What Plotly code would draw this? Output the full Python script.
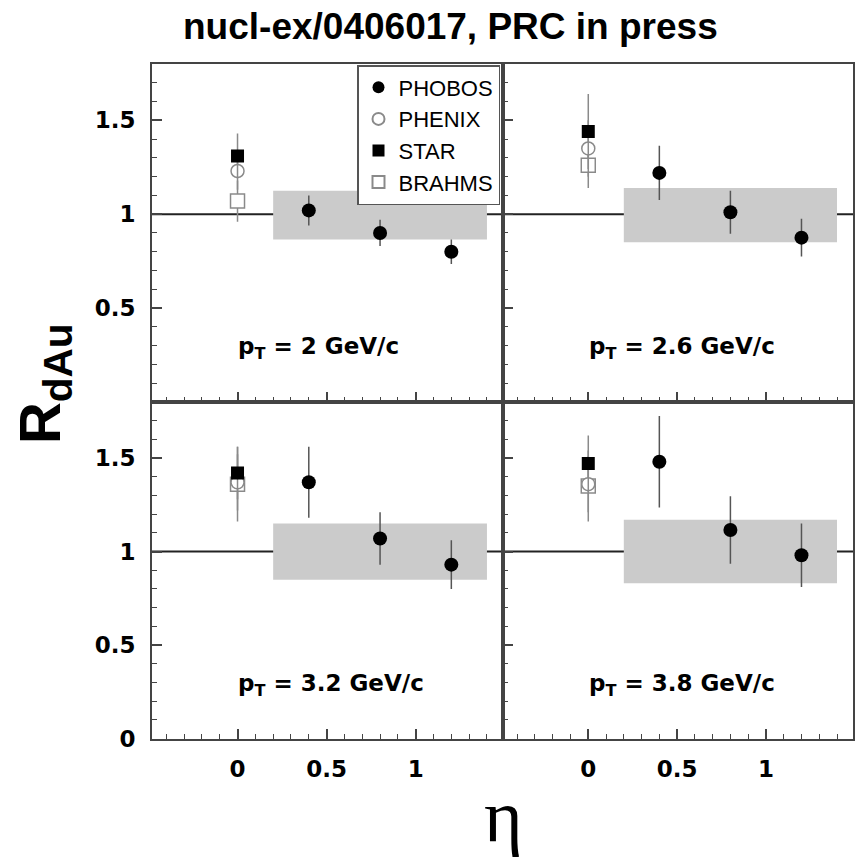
import plotly.graph_objects as go

# ---------------- data ----------------
pt_labels = ["2", "2.6", "3.2", "3.8"]
eta_phobos = [0.4, 0.8, 1.2]
phobos_r = [[1.02, 0.90, 0.80],
            [1.22, 1.01, 0.875],
            [1.37, 1.07, 0.93],
            [1.48, 1.115, 0.98]]
phobos_err = [[0.08, 0.07, 0.065],
              [0.145, 0.115, 0.10],
              [0.19, 0.14, 0.13],
              [0.245, 0.18, 0.17]]
eta_mid = [0.0]
star_r = [1.31, 1.44, 1.42, 1.47]
star_err = [0.12, 0.20, 0.14, 0.15]
phenix_r = [1.23, 1.35, 1.37, 1.36]
phenix_err = [0.10, 0.15, 0.15, 0.15]
brahms_r = [1.07, 1.26, 1.36, 1.35]
brahms_err = [0.11, 0.12, 0.20, 0.19]
syst_eta = [0.2, 1.4]
syst_lo = [0.865, 0.85, 0.85, 0.83]
syst_hi = [1.125, 1.14, 1.15, 1.17]

W, H = 857, 862
# panel pixel boxes (left, right, top, bottom)
xl = [(152, 503), (503, 853)]
yt = [(65, 408), (408, 750)]

def px_x(v):
    return v / W

def px_y(v):
    return 1 - v / H

fig = go.Figure()

AX = "#444444"
tickfont = dict(family="DejaVu Sans", size=23, color="black", weight="bold")

layout_axes = {}
for i in range(4):
    row, col = divmod(i, 2)
    n = "" if i == 0 else str(i + 1)
    x0, x1 = xl[col]
    y0, y1 = yt[row]
    xa = dict(domain=[px_x(x0), px_x(x1)], range=[-0.48, 1.49], anchor="y" + n,
              tickmode="linear", tick0=0, dtick=0.5, ticks="inside", ticklen=10,
              tickwidth=1.5, tickcolor=AX, showline=True, linecolor=AX, linewidth=2,
              mirror=True, showgrid=False, zeroline=False,
              showticklabels=(row == 1), tickfont=tickfont, ticklabelstandoff=9,
              minor=dict(tickmode="linear", tick0=0, dtick=0.1, ticks="inside",
                         ticklen=5, tickwidth=1, tickcolor=AX))
    ya = dict(domain=[px_y(y1), px_y(y0)], range=[0, 1.8], anchor="x" + n,
              tickmode="array",
              tickvals=[0.5, 1, 1.5] if row == 0 else [0, 0.5, 1, 1.5],
              ticktext=["0.5", "1", "1.5"] if row == 0 else ["0", "0.5", "1", "1.5"],
              ticks="inside", ticklen=10, tickwidth=1.5, tickcolor=AX,
              showline=True, linecolor=AX, linewidth=2, mirror=True,
              showgrid=False, zeroline=False, showticklabels=(col == 0),
              tickfont=tickfont, ticklabelstandoff=10,
              minor=dict(tickmode="linear", tick0=0, dtick=0.1, ticks="inside",
                         ticklen=5, tickwidth=1, tickcolor=AX))
    layout_axes["xaxis" + n] = xa
    layout_axes["yaxis" + n] = ya

    xr, yr = "x" + n, "y" + n
    # systematic band
    fig.add_shape(type="rect", xref=xr, yref=yr, x0=syst_eta[0], x1=syst_eta[1],
                  y0=syst_lo[i], y1=syst_hi[i], fillcolor="#cbcbcb",
                  line=dict(width=0), layer="below")
    # unity line
    fig.add_shape(type="line", xref=xr + " domain", yref=yr, x0=0, x1=1,
                  y0=1, y1=1, line=dict(color="#222222", width=2), layer="below")

    show = (i == 0)
    fig.add_trace(go.Scatter(
        x=eta_mid, y=[brahms_r[i]], mode="markers", name="BRAHMS",
        xaxis=xr, yaxis=yr, showlegend=show, legendrank=4,
        marker=dict(symbol="square", size=14, color="white",
                    line=dict(color="#8a8a8a", width=1.5)),
        error_y=dict(type="data", array=[brahms_err[i]], width=0,
                     thickness=1.5, color="#8a8a8a")))
    fig.add_trace(go.Scatter(
        x=eta_mid, y=[phenix_r[i]], mode="markers", name="PHENIX",
        xaxis=xr, yaxis=yr, showlegend=show, legendrank=2,
        marker=dict(symbol="circle", size=13, color="white",
                    line=dict(color="#8a8a8a", width=1.5)),
        error_y=dict(type="data", array=[phenix_err[i]], width=0,
                     thickness=1.5, color="#8a8a8a")))
    fig.add_trace(go.Scatter(
        x=eta_mid, y=[star_r[i]], mode="markers", name="STAR",
        xaxis=xr, yaxis=yr, showlegend=show, legendrank=3,
        marker=dict(symbol="square", size=13, color="black"),
        error_y=dict(type="data", array=[star_err[i]], width=0,
                     thickness=1.5, color="#8a8a8a")))
    fig.add_trace(go.Scatter(
        x=eta_phobos, y=phobos_r[i], mode="markers", name="PHOBOS",
        xaxis=xr, yaxis=yr, showlegend=show, legendrank=1,
        marker=dict(symbol="circle", size=14, color="black"),
        error_y=dict(type="data", array=phobos_err[i], width=0,
                     thickness=1.5, color="#555555")))

    fig.add_annotation(xref=xr, yref=yr, x=-0.01, y=0.285, xanchor="left",
                       yanchor="middle", showarrow=False,
                       text="p<sub>T</sub> = " + pt_labels[i] + " GeV/c",
                       font=dict(family="DejaVu Sans", size=23, color="black",
                                 weight="bold"))

fig.add_annotation(xref="paper", yref="paper", x=px_x(450), y=px_y(27),
                   xanchor="center", yanchor="middle", showarrow=False,
                   text="nucl-ex/0406017, PRC in press",
                   font=dict(family="Liberation Sans", size=37, color="black",
                             weight="bold"))
fig.add_annotation(xref="paper", yref="paper", x=px_x(44), y=px_y(390),
                   xanchor="center", yanchor="middle", showarrow=False,
                   textangle=-90, text="R<sub>dAu</sub>",
                   font=dict(family="Liberation Sans", size=58, color="black",
                             weight="bold"))
fig.add_annotation(xref="paper", yref="paper", x=px_x(504), y=px_y(828),
                   xanchor="center", yanchor="middle", showarrow=False,
                   text="η",
                   font=dict(family="Liberation Serif", size=74, color="black"))

fig.update_layout(
    width=W, height=H, margin=dict(l=0, r=0, t=0, b=0),
    paper_bgcolor="white", plot_bgcolor="white",
    showlegend=True,
    legend=dict(x=px_x(500), y=px_y(66), xanchor="right", yanchor="top",
                bgcolor="white", bordercolor="#555555", borderwidth=1.5,
                font=dict(family="Liberation Sans", size=22, color="black"),
                itemwidth=30, itemsizing="constant", tracegroupgap=0),
    **layout_axes)

fig.write_html("out.html")
